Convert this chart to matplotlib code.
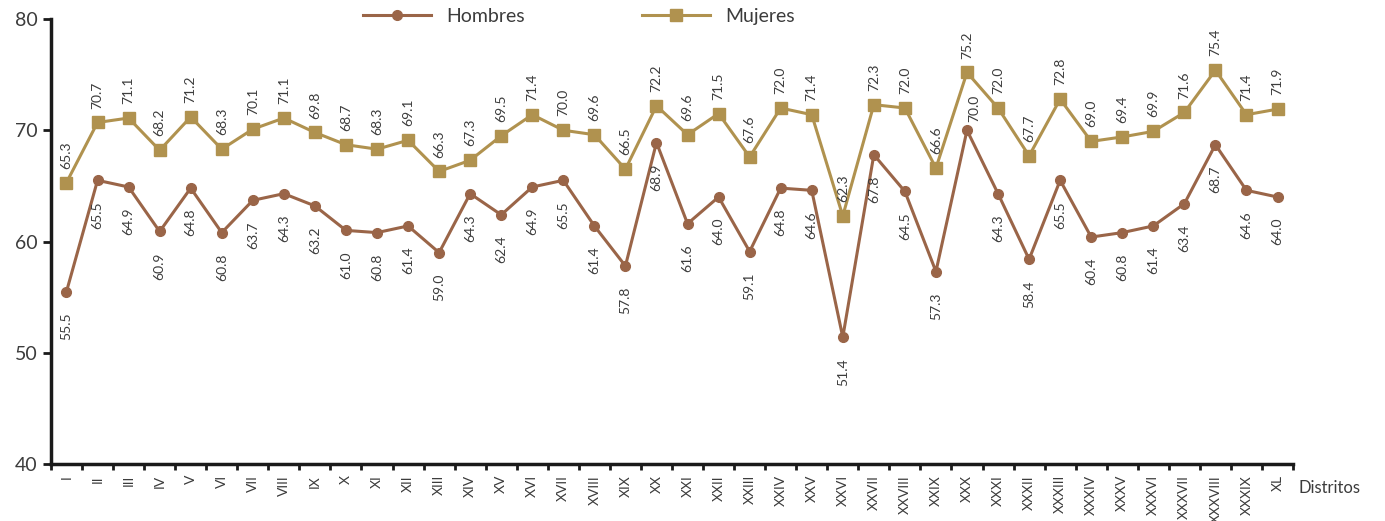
import numpy as np
import matplotlib.pyplot as plt
from matplotlib.ticker import FixedLocator

distritos = ["I", "II", "III", "IV", "V", "VI", "VII", "VIII", "IX", "X",
             "XI", "XII", "XIII", "XIV", "XV", "XVI", "XVII", "XVIII", "XIX", "XX",
             "XXI", "XXII", "XXIII", "XXIV", "XXV", "XXVI", "XXVII", "XXVIII", "XXIX", "XXX",
             "XXXI", "XXXII", "XXXIII", "XXXIV", "XXXV", "XXXVI", "XXXVII", "XXXVIII", "XXXIX", "XL"]

hombres = [55.5, 65.5, 64.9, 60.9, 64.8, 60.8, 63.7, 64.3, 63.2, 61.0,
           60.8, 61.4, 59.0, 64.3, 62.4, 64.9, 65.5, 61.4, 57.8, 68.9,
           61.6, 64.0, 59.1, 64.8, 64.6, 51.4, 67.8, 64.5, 57.3, 70.0,
           64.3, 58.4, 65.5, 60.4, 60.8, 61.4, 63.4, 68.7, 64.6, 64.0]

mujeres = [65.3, 70.7, 71.1, 68.2, 71.2, 68.3, 70.1, 71.1, 69.8, 68.7,
           68.3, 69.1, 66.3, 67.3, 69.5, 71.4, 70.0, 69.6, 66.5, 72.2,
           69.6, 71.5, 67.6, 72.0, 71.4, 62.3, 72.3, 72.0, 66.6, 75.2,
           72.0, 67.7, 72.8, 69.0, 69.4, 69.9, 71.6, 75.4, 71.4, 71.9]

c_h = "#9a6548"
c_m = "#b0924f"
txt = "#3c3c3c"

plt.rcParams['font.family'] = ['Lato', 'DejaVu Sans']

fig = plt.figure(figsize=(13.85, 5.21), dpi=100)
ax = fig.add_axes([0.0368, 0.1094, 0.8968, 0.8541])

x = np.arange(len(distritos))
ax.plot(x, hombres, color=c_h, lw=2.2, marker="o", ms=7, label="Hombres")
ax.plot(x, mujeres, color=c_m, lw=2.2, marker="s", ms=8, label="Mujeres")

for i, (h, m) in enumerate(zip(hombres, mujeres)):
    if distritos[i] == "XXX":
        ax.annotate(f"{h:.1f}", (i, h), xytext=(5, 6), textcoords="offset points",
                    rotation=90, ha="center", va="bottom", fontsize=10, color=txt)
    else:
        ax.annotate(f"{h:.1f}", (i, h), xytext=(0, -15), textcoords="offset points",
                    rotation=90, ha="center", va="top", fontsize=10, color=txt)
    ax.annotate(f"{m:.1f}", (i, m), xytext=(0, 10), textcoords="offset points",
                rotation=90, ha="center", va="bottom", fontsize=10, color=txt)

ax.set_xlim(-0.5, len(distritos) - 0.5)
ax.set_ylim(40, 80)
ax.set_yticks([40, 50, 60, 70, 80])
ax.tick_params(axis="y", labelsize=14, width=2, length=6, colors="#1a1a1a", labelcolor=txt)

ax.set_xticks(x)
ax.set_xticklabels(distritos, rotation=90, fontsize=10, color=txt, va="top")
ax.xaxis.set_minor_locator(FixedLocator(np.arange(-0.5, len(distritos), 1)))
ax.tick_params(axis="x", which="major", length=0, pad=8)
ax.tick_params(axis="x", which="minor", length=4, width=2, color="#1a1a1a")

for s in ["top", "right"]:
    ax.spines[s].set_visible(False)
for s in ["left", "bottom"]:
    ax.spines[s].set_linewidth(2.5)
    ax.spines[s].set_color("#1a1a1a")

ax.legend(loc="upper center", bbox_to_anchor=(0.425, 1.065), ncol=2, frameon=False,
          fontsize=14, handlelength=3.5, columnspacing=6, labelcolor=txt)

fig.text(0.96, 0.063, "Distritos", fontsize=12, color=txt, ha="center", va="center")

fig.savefig("out.png", dpi=100)
